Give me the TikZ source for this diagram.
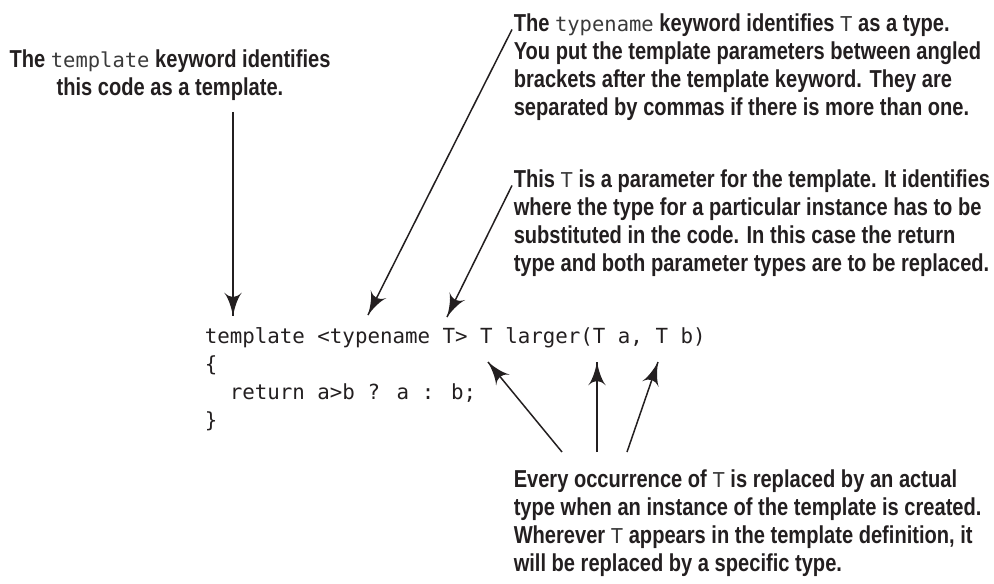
\documentclass[tikz,border=0pt]{standalone}
\usepackage{fontspec}
\usetikzlibrary{arrows,decorations.markings}
\newfontfamily\notefont[FakeStretch=0.82]{Liberation Sans}
\newfontfamily\codefont{DejaVu Sans Mono}
\definecolor{ink}{HTML}{231F20}
\definecolor{kwgray}{HTML}{3A3A3A}
\newcommand{\kw}[1]{{\codefont\mdseries\fontsize{20.5}{28}\selectfont\color{kwgray}#1}}
\tikzset{->/.style = {decoration={markings,
                                  mark=at position 1 with {\arrow[scale=3.2]{latex'}}},
                      postaction={decorate}}}
\tikzset{note/.style = {font=\notefont\bfseries\fontsize{24.5}{28}\selectfont,
                        text=ink, inner sep=0, align=left}}
\tikzset{code/.style = {font=\codefont\fontsize{20.8}{28}\selectfont,
                        text=ink, inner sep=0, align=left}}

\begin{document}
\begin{tikzpicture}[x=1pt, y=-1pt, line width=1.5pt, draw=ink]
      \useasboundingbox (0, 0) rectangle (994, 584);

      % callouts (anchor base = baseline of the last line)
      \node [note, align=center, anchor=base] (tmplnote) at (170, 95)
        {The \kw{template} keyword identifies\\this code as a template.};
      \node [note, anchor=base west] (typenote) at (513, 115)
        {The \kw{typename} keyword identifies \kw{T} as a type.\\
         You put the template parameters between angled\\
         brackets after the template keyword. They are\\
         separated by commas if there is more than one.};
      \node [note, anchor=base west] (paramnote) at (513, 271)
        {This \kw{T} is a parameter for the template. It identifies\\
         where the type for a particular instance has to be\\
         substituted in the code. In this case the return\\
         type and both parameter types are to be replaced.};
      \node [note, anchor=base west] (occurnote) at (513, 571)
        {Every occurrence of \kw{T} is replaced by an actual\\
         type when an instance of the template is created.\\
         Wherever \kw{T} appears in the template definition, it\\
         will be replaced by a specific type.};

      \node [code, anchor=base west] (code) at (204, 427)
        {template <typename T> T larger(T a, T b)\\
         \{\\
         \phantom{re}return a>b ? a : b;\\
         \}};

      \coordinate (tmpltip) at (233, 316);
      \coordinate (typetip) at (368, 315);
      \coordinate (ttip) at (447, 317);
      \coordinate (rettip) at (488, 362);
      \coordinate (atip) at (597, 362);
      \coordinate (btip) at (658, 362);
      \coordinate (retfoot) at (562, 452);
      \coordinate (afoot) at (597, 452);
      \coordinate (bfoot) at (627, 452);

      \draw [->] (tmplnote.south -| tmpltip) ++(0, 11) -- (tmpltip);
      \draw [->] ([xshift=-1pt, yshift=-17pt]typenote.north west) -- (typetip);
      \draw [->] ([xshift=-1pt, yshift=-17pt]paramnote.north west) -- (ttip);

      \draw [->] (retfoot) -- (rettip);
      \draw [->] (afoot) -- (atip);
      \draw [->] (bfoot) -- (btip);
    \end{tikzpicture}
\end{document}
